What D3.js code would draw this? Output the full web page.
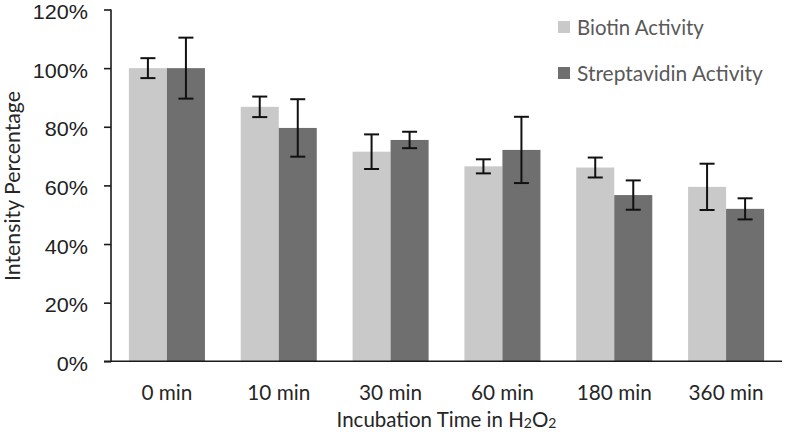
<!DOCTYPE html>
<html>
<head>
<meta charset="utf-8">
<script src="https://cdn.jsdelivr.net/npm/d3@7"></script>
<style>
  html, body { margin: 0; padding: 0; background: #fff; }
  svg { display: block; }
</style>
</head>
<body>
<svg id="chart" width="791" height="436"></svg>
<script>
// ---- data ----
const categories = ["0 min", "10 min", "30 min", "60 min", "180 min", "360 min"];
const seriesNames = ["Biotin Activity", "Streptavidin Activity"];
const biotinValues = [1.00, 0.868, 0.715, 0.665, 0.661, 0.595];
const biotinErrors = [0.034, 0.035, 0.059, 0.024, 0.034, 0.079];
const streptValues = [1.00, 0.796, 0.755, 0.721, 0.567, 0.520];
const streptErrors = [0.104, 0.098, 0.028, 0.113, 0.050, 0.036];
const yTicks = [0, 0.2, 0.4, 0.6, 0.8, 1.0, 1.2];
const seriesColors = ["#c9c9c9", "#6f6f6f"];

(function () {
// ---- layout ----
const svg = d3.select("#chart");
const plotLeft = 111, plotRight = 782, plotTop = 9.5, plotBottom = 361.3;

const x0 = d3.scaleBand().domain(categories).range([plotLeft, plotRight])
  .paddingInner(0.32).paddingOuter(0.16);
const x1 = d3.scaleBand().domain(seriesNames).range([0, x0.bandwidth()]).padding(0);
const y = d3.scaleLinear().domain([0, 1.2]).range([plotBottom, plotTop]);
const color = d3.scaleOrdinal().domain(seriesNames).range(seriesColors);

const rows = categories.map((c, i) => ({
  cat: c,
  items: [
    { s: seriesNames[0], v: biotinValues[i], e: biotinErrors[i] },
    { s: seriesNames[1], v: streptValues[i], e: streptErrors[i] }
  ]
}));

function fitText(sel, target) {
  const node = sel.node();
  const fs = parseFloat(sel.attr("font-size"));
  const w = node.getComputedTextLength();
  if (w > 0) sel.attr("font-size", (fs * target / w).toFixed(2));
}

// bars
const groups = svg.append("g").selectAll("g").data(rows).join("g")
  .attr("transform", d => `translate(${x0(d.cat)},0)`);
groups.selectAll("rect").data(d => d.items).join("rect")
  .attr("x", d => x1(d.s))
  .attr("width", x1.bandwidth())
  .attr("y", d => y(d.v))
  .attr("height", d => y(0) - y(d.v))
  .attr("fill", d => color(d.s));

// error bars
const capW = 15;
const eb = groups.selectAll("g.err").data(d => d.items).join("g").attr("class", "err")
  .attr("stroke", "#111").attr("stroke-width", 2);
eb.append("line")
  .attr("x1", d => x1(d.s) + x1.bandwidth() / 2)
  .attr("x2", d => x1(d.s) + x1.bandwidth() / 2)
  .attr("y1", d => y(d.v + d.e)).attr("y2", d => y(d.v - d.e));
eb.append("line")
  .attr("x1", d => x1(d.s) + x1.bandwidth() / 2 - capW / 2)
  .attr("x2", d => x1(d.s) + x1.bandwidth() / 2 + capW / 2)
  .attr("y1", d => y(d.v + d.e)).attr("y2", d => y(d.v + d.e));
eb.append("line")
  .attr("x1", d => x1(d.s) + x1.bandwidth() / 2 - capW / 2)
  .attr("x2", d => x1(d.s) + x1.bandwidth() / 2 + capW / 2)
  .attr("y1", d => y(d.v - d.e)).attr("y2", d => y(d.v - d.e));

// y axis
const yAxis = d3.axisLeft(y).tickValues(yTicks).tickFormat(d3.format(".0%"))
  .tickSize(7).tickPadding(16).tickSizeOuter(0);
const gy = svg.append("g").attr("transform", `translate(${plotLeft},0)`).call(yAxis);
gy.select(".domain").attr("stroke", "#1a1a1a").attr("stroke-width", 1.6)
  .attr("d", `M0,${plotTop}V${plotBottom}`);
gy.selectAll(".tick line").attr("stroke", "#1a1a1a").attr("stroke-width", 1.6);
const sx = 1.08;
gy.selectAll(".tick text")
  .attr("font-family", "'Liberation Sans', Arial, sans-serif")
  .attr("font-size", 20).attr("fill", "#222")
  .attr("dy", "0.45em")
  .attr("x", -23 / sx)
  .attr("transform", `scale(${sx},1)`);

// x axis
const xAxis = d3.axisBottom(x0).tickSize(0).tickPadding(0);
const gx = svg.append("g").attr("transform", `translate(0,${plotBottom})`).call(xAxis);
gx.select(".domain").attr("stroke", "#1a1a1a").attr("stroke-width", 1.6)
  .attr("d", `M${plotLeft - 7},0H${plotRight}`);
gx.selectAll(".tick text")
  .attr("font-family", "Lato, 'Open Sans', sans-serif")
  .attr("font-size", 19).attr("fill", "#262626")
  .attr("dy", null).attr("y", 400 - plotBottom);
const sample = gx.selectAll(".tick text").filter(d => d === "30 min");
const fs0 = 19, w0 = sample.node().getComputedTextLength();
gx.selectAll(".tick text").attr("font-size", (fs0 * 63 / w0).toFixed(2));

// x title
const xt = svg.append("text")
  .attr("x", (plotLeft + plotRight) / 2).attr("y", 427)
  .attr("text-anchor", "middle")
  .attr("font-family", "Lato, 'Open Sans', sans-serif")
  .attr("font-size", 19).attr("fill", "#262626");
xt.append("tspan").text("Incubation Time in H");
xt.append("tspan").text("2").attr("font-size", "0.68em").attr("dy", "0.1em");
xt.append("tspan").text("O").attr("dy", "-0.068em");
xt.append("tspan").text("2").attr("font-size", "0.68em").attr("dy", "0.068em");
fitText(xt, 220);

// y title
const yt = svg.append("text")
  .attr("transform", "translate(20,186) rotate(-90)")
  .attr("text-anchor", "middle")
  .attr("font-family", "Lato, 'Open Sans', sans-serif")
  .attr("font-size", 19).attr("fill", "#262626")
  .text("Intensity Percentage");
fitText(yt, 190);

// legend
const legendY = [21, 67];
const lg = svg.append("g").selectAll("g").data(seriesNames).join("g")
  .attr("transform", (d, i) => `translate(558,${legendY[i]})`);
lg.append("rect").attr("width", 12).attr("height", 12).attr("fill", d => color(d));
const legendW = [127, 186];
lg.append("text")
  .attr("x", 19).attr("y", 14)
  .attr("font-family", "Lato, 'Open Sans', sans-serif")
  .attr("font-size", 19).attr("fill", "#595959")
  .text(d => d)
  .each(function(d, i) { fitText(d3.select(this), legendW[i]); });
})();
</script>
</body>
</html>
